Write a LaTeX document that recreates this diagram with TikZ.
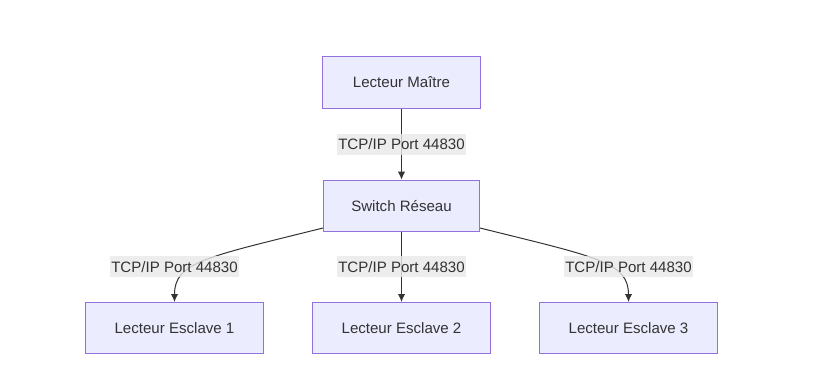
\documentclass[tikz,border=0pt]{standalone}
\usepackage{fontspec}
\setmainfont{Liberation Sans}
\usetikzlibrary{arrows.meta,positioning}
\definecolor{boxfill}{HTML}{ECECFF}
\definecolor{boxline}{HTML}{9370DB}
\definecolor{txt}{HTML}{333333}
\definecolor{lblfill}{HTML}{E8E8E8}

\begin{document}
\begin{tikzpicture}[
    x=0.75pt, y=-0.75pt,
    node distance=52.5pt and 36pt,
    box/.style={rectangle, draw=boxline, fill=boxfill, line width=0.75pt,
                minimum height=38.5pt, text=txt, font=\fontsize{11.3}{13}\selectfont},
    lbl/.style={rectangle, fill=lblfill, fill opacity=0.8, text opacity=1, text=txt,
                inner xsep=1pt, inner ysep=0pt, minimum height=15.75pt,
                font=\fontsize{11.3}{13}\selectfont},
    arrow/.style={-{Latex[length=6pt,width=5.5pt]}, txt, line width=0.75pt}
]
    \useasboundingbox (0,0) rectangle (818,367);
    \node[box, minimum width=119pt] (master) at (401.5,82.5) {Lecteur Maître};
    \node[box, minimum width=117pt, below=53.25pt of master] (switch) {Switch Réseau};
    \node[box, minimum width=133.5pt, below=of switch] (slave2) {Lecteur Esclave 2};
    \node[box, minimum width=133.5pt, left=of slave2] (slave1) {Lecteur Esclave 1};
    \node[box, minimum width=133.5pt, right=of slave2] (slave3) {Lecteur Esclave 3};

    \draw[arrow] (master) -- node[lbl] (lblmaster) {TCP/IP Port 44830} (switch);
    \draw[arrow] (switch) -- node[lbl] (lblslave2) {TCP/IP Port 44830} (slave2);
    \draw[arrow] ([yshift=3pt]switch.south west) .. controls +(194:90pt) and +(90:30pt) .. (slave1.north);
    \draw[arrow] ([yshift=3pt]switch.south east) .. controls +(-14:90pt) and +(90:30pt) .. (slave3.north);
    \node[lbl] (lblslave1) at ([yshift=26.5pt]slave1.north) {TCP/IP Port 44830};
    \node[lbl] (lblslave3) at ([yshift=26.5pt]slave3.north) {TCP/IP Port 44830};
\end{tikzpicture}
\end{document}
